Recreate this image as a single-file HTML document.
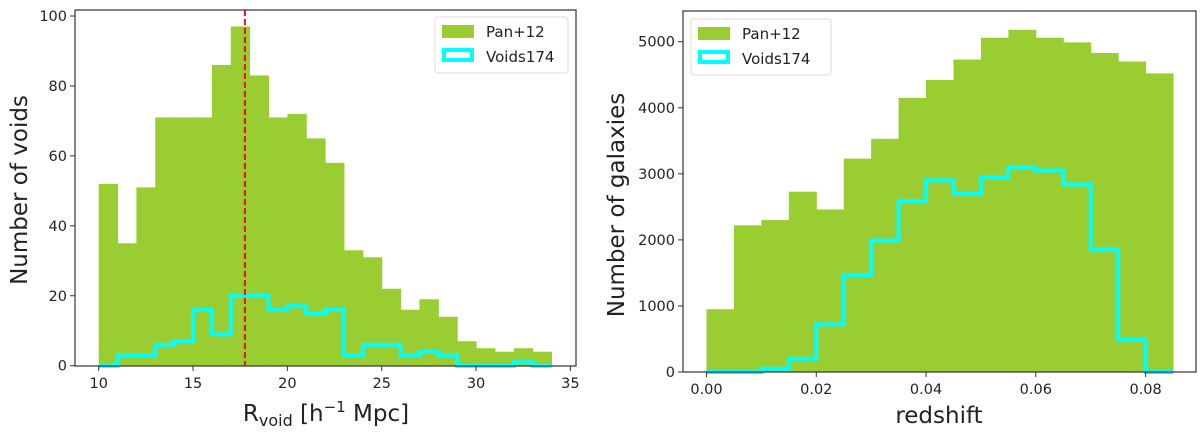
<!DOCTYPE html>
<html><head><meta charset="utf-8"><style>
body{margin:0;background:#fff;}
svg text{font-family:"DejaVu Sans","Liberation Sans",sans-serif;fill:#222;}
</style></head><body>
<svg id="fig" width="1200" height="435" viewBox="0 0 1200 435" xmlns="http://www.w3.org/2000/svg"></svg>
<script>
const leftBinStart = 10, leftBinWidth = 1;
const leftPan = [52,35,51,71,71,71,86,97,83,71,72,65,58,33,31,22,16,19,14,7,5,4,5,4];
const leftVoids = [0,3,3,6,7,16,9,20,20,16,17,15,16,3,6,6,3,4,3,0,0,0,1,0];
const leftXTicks = [10,15,20,25,30,35];
const leftYTicks = [0,20,40,60,80,100];
const leftMedian = 17.75;
const rightBinStart = 0, rightBinWidth = 0.005;
const rightPan = [950,2220,2300,2730,2460,3230,3530,4150,4420,4730,5060,5180,5060,4990,4830,4700,4520];
const rightVoids = [0,0,50,200,720,1470,1990,2590,2900,2700,2950,3100,3050,2840,1860,490,0];
const rightXTicks = ["0.00","0.02","0.04","0.06","0.08"];
const rightYTicks = [0,1000,2000,3000,4000,5000];

const NS="http://www.w3.org/2000/svg";
const svg=document.getElementById('fig');
function mk(tag,attrs,parent){const e=document.createElementNS(NS,tag);for(const k in attrs)e.setAttribute(k,attrs[k]);(parent||svg).appendChild(e);return e;}

function panel(o){
  const g=mk('g',{});
  
  
  const sx=v=>o.x0px+(v-o.x0)*(o.x1px-o.x0px)/(o.x1-o.x0);
  const sy=v=>o.y0px+(v-o.y0)*(o.y1px-o.y0px)/(o.y1-o.y0);
  o.pan.forEach((v,i)=>{
    const a=sx(o.binStart+i*o.binWidth), b=sx(o.binStart+(i+1)*o.binWidth);
    const r=mk('rect',{x:a,y:sy(v),width:b-a+0.5,height:sy(0)-sy(v),fill:'#9acd32'},g);
    
    
  });
  let d='M'+sx(o.binStart)+','+sy(0);
  o.voids.forEach((v,i)=>{
    const a=sx(o.binStart+i*o.binWidth), b=sx(o.binStart+(i+1)*o.binWidth);
    d+=' L'+a+','+sy(v)+' L'+b+','+sy(v);
  });
  d+=' L'+sx(o.binStart+o.voids.length*o.binWidth)+','+sy(0);
  const p=mk('path',{d:d,fill:'none',stroke:'#00ffff','stroke-width':4,'stroke-linejoin':'miter'},g);
  
  
  if(o.median!==undefined){
    const l=mk('line',{x1:sx(o.median),x2:sx(o.median),y1:o.top,y2:o.bottom,stroke:'#e8131a','stroke-width':2,'stroke-dasharray':'6,3'},g);
    
    
  }
  const f=mk('rect',{x:o.left,y:o.top,width:o.right-o.left,height:o.bottom-o.top,fill:'none',stroke:'#333','stroke-width':1.2},g);
  
  
  o.xTicks.forEach(t=>{
    const x=sx(parseFloat(t));
    mk('line',{x1:x,x2:x,y1:o.bottom,y2:o.bottom+5,stroke:'#333'},g);
    const tx=mk('text',{x:x,y:o.bottom+22,'text-anchor':'middle','font-size':14.5},g);
    tx.textContent=t;
    
    
  });
  o.yTicks.forEach(t=>{
    const y=sy(t);
    mk('line',{x1:o.left-5,x2:o.left,y1:y,y2:y,stroke:'#333'},g);
    const tx=mk('text',{x:o.left-8,y:y+5,'text-anchor':'end','font-size':14.5},g);
    tx.textContent=t;
    
    
  });
  const L=o.legend;
  const lb=mk('rect',{x:L.x,y:L.y,width:L.w,height:56,rx:3,fill:'#fff','fill-opacity':0.85,stroke:'#ddd'},g);
  
  
  mk('rect',{x:L.x+7,y:L.y+8,width:32,height:13,fill:'#9acd32'},g);
  mk('rect',{x:L.x+9,y:L.y+33,width:28,height:10,fill:'none',stroke:'#00ffff','stroke-width':4},g);
  const t1=mk('text',{x:L.x+51,y:L.y+20,'font-size':15},g);t1.textContent='Pan+12';
  
  
  const t2=mk('text',{x:L.x+51,y:L.y+45,'font-size':15},g);t2.textContent='Voids174';
  
  
  return g;
}

panel({name:'left-panel',left:75,right:576,top:10,bottom:366,
  x0:10,x1:35,x0px:98.7,x1px:570.4,y0:0,y1:100,y0px:365.7,y1px:16,
  pan:leftPan,voids:leftVoids,binStart:leftBinStart,binWidth:leftBinWidth,
  xTicks:leftXTicks.map(String),yTicks:leftYTicks,median:leftMedian,
  legend:{x:435,y:17,w:133}});
panel({name:'right-panel',left:683,right:1196,top:11,bottom:372,
  x0:0,x1:0.08,x0px:706.5,x1px:1145.6,y0:0,y1:5000,y0px:372,y1px:41.7,
  pan:rightPan,voids:rightVoids,binStart:rightBinStart,binWidth:rightBinWidth,
  xTicks:rightXTicks,yTicks:rightYTicks,
  legend:{x:691,y:19,w:140}});

const xl=mk('text',{x:326,y:421,'text-anchor':'middle','font-size':23});


xl.innerHTML='R<tspan font-size="16" dy="5">void</tspan><tspan dy="-5"> [h</tspan><tspan font-size="15" dy="-9">−1</tspan><tspan dy="9"> Mpc]</tspan>';
const yl=mk('text',{x:0,y:0,'text-anchor':'middle','font-size':23,transform:'translate(27,190) rotate(-90)'});
yl.textContent='Number of voids';


const xr=mk('text',{x:939,y:423,'text-anchor':'middle','font-size':23});
xr.textContent='redshift';


const yr=mk('text',{x:0,y:0,'text-anchor':'middle','font-size':23,transform:'translate(624,205) rotate(-90)'});
yr.textContent='Number of galaxies';


</script>
</body></html>
